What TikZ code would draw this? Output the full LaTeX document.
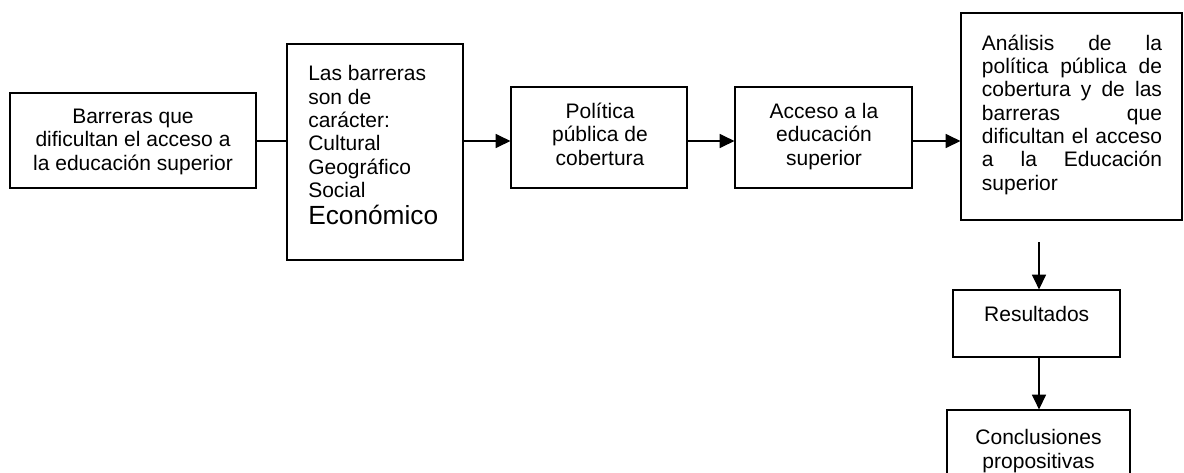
\documentclass[tikz,border=0pt]{standalone}
\usepackage{fontspec}
\setmainfont{Liberation Sans}
\usetikzlibrary{arrows.meta}
\begin{document}
\begin{tikzpicture}[x=0.75pt,y=-0.75pt,
  box/.style={draw, line width=0.9pt, inner sep=0pt},
  txt/.style={inner sep=0pt, font=\fontsize{15.75pt}{17.5pt}\selectfont},
  link/.style={line width=0.9pt},
  arr/.style={line width=0.9pt, -{Triangle[length=11pt,width=10.5pt]}}]
\useasboundingbox (0,0) rectangle (1184,472);
% boxes
\node[box, minimum width=184.5pt, minimum height=71.25pt] (b1) at (133,140.5) {};
\node[box, minimum width=132pt, minimum height=162pt] (b2) at (375,152) {};
\node[box, minimum width=132pt, minimum height=75.75pt] (b3) at (599,137.5) {};
\node[box, minimum width=132.75pt, minimum height=75.75pt] (b4) at (823.5,137.5) {};
\node[box, minimum width=165.75pt, minimum height=155.25pt] (b5) at (1071.5,116.5) {};
\node[box, minimum width=125.25pt, minimum height=50.25pt] (res) at (1036.5,323.5) {};
\node[box, minimum width=137.25pt, minimum height=67.5pt] (conc) at (1038.5,455) {};
% texts (base anchor = baseline of the last line)
\node[txt, anchor=base, align=center] (t1) at (133,170) {Barreras que\\dificultan el acceso a\\la educación superior};
\node[txt, anchor=base west, align=left] (t2) at (308,224) {Las barreras\\son de\\carácter:\\Cultural\\Geográfico\\Social\\[2.5pt]{\fontsize{19.7pt}{20pt}\selectfont Económico}};
\node[txt, anchor=base, align=center] (t3) at (600,165) {Política\\pública de\\cobertura};
\node[txt, anchor=base, align=center] (t4) at (824,165) {Acceso a la\\educación\\superior};
\node[txt, anchor=base west, align=left] (t5) at (981.7,190) {\makebox[135pt][s]{Análisis de la}\\\makebox[135pt][s]{política pública de}\\\makebox[135pt][s]{cobertura y de las}\\\makebox[135pt][s]{barreras que}\\\makebox[135pt][s]{dificultan el acceso}\\\makebox[135pt][s]{a la Educación}\\superior};
\node[txt, anchor=base] (t6) at (1036.7,321.7) {Resultados};
\node[txt, anchor=base, align=center] (t7) at (1038.5,468) {Conclusiones\\propositivas};
% connectors
\coordinate (row) at (0,141);
\draw[link] (b1.east |- row) -- (b2.west |- row);
\draw[arr] (b2.east |- row) -- (b3.west |- row);
\draw[arr] (b3.east |- row) -- (b4.west |- row);
\draw[arr] (b4.east |- row) -- (b5.west |- row);
\coordinate (col) at (1039,242);
\draw[arr] (col) -- (col |- res.north);
\draw[arr] (col |- res.south) -- (col |- conc.north);
\end{tikzpicture}
\end{document}
